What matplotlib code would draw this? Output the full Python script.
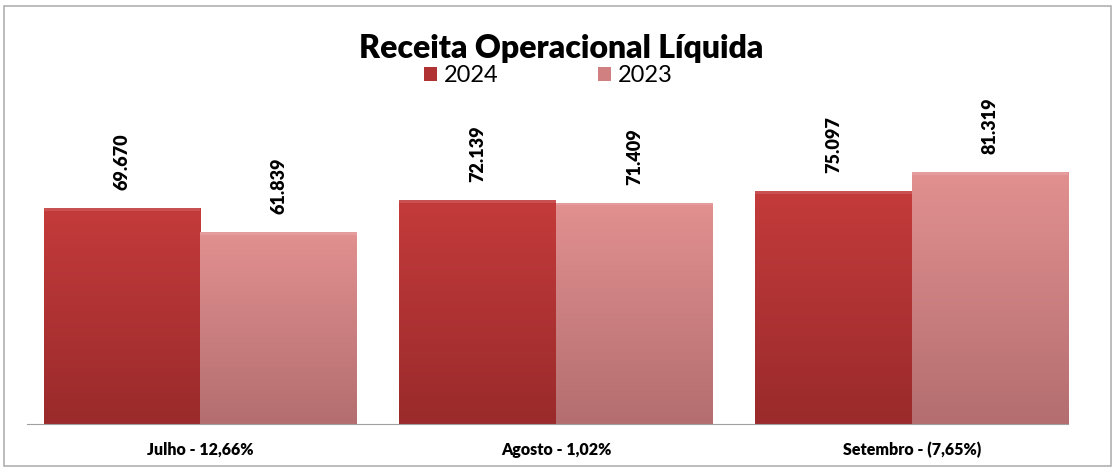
import numpy as np
import matplotlib.pyplot as plt
from matplotlib.patches import Rectangle
from matplotlib.colors import LinearSegmentedColormap

# Dados do gráfico
meses = ['Julho - 12,66%', 'Agosto - 1,02%', 'Setembro - (7,65%)']
valores_2024 = [69670, 72139, 75097]
valores_2023 = [61839, 71409, 81319]
rotulos_2024 = ['69.670', '72.139', '75.097']
rotulos_2023 = ['61.839', '71.409', '81.319']

plt.rcParams['font.family'] = ['Lato', 'DejaVu Sans']

fig = plt.figure(figsize=(11.15, 4.72), dpi=100)
fig.patch.set_facecolor('white')
fig.add_artist(Rectangle((0.004, 0.012), 0.992, 0.976, transform=fig.transFigure,
                         fill=False, edgecolor='#b0b0b0', linewidth=1.2))

ax = fig.add_axes([0.0242, 0.1017, 0.934, 0.686])

x = np.arange(len(meses))
largura = 0.44

cmap_2024 = LinearSegmentedColormap.from_list('c24', ['#9a2a2b', '#c43b3b'])
cmap_2023 = LinearSegmentedColormap.from_list('c23', ['#b46e6f', '#e29090'])

barras_2024 = ax.bar(x - largura / 2, valores_2024, largura, color='#b03232',
                     edgecolor='none', label='2024')
barras_2023 = ax.bar(x + largura / 2, valores_2023, largura, color='#d08080',
                     edgecolor='none', label='2023')

# gradiente vertical dentro das barras
grad = np.linspace(0, 1, 256).reshape(-1, 1)
for barras, cmap in [(barras_2024, cmap_2024), (barras_2023, cmap_2023)]:
    for b in barras:
        x0, w, h = b.get_x(), b.get_width(), b.get_height()
        im = ax.imshow(grad, cmap=cmap, origin='lower', aspect='auto',
                       extent=[x0, x0 + w, 0, h], zorder=2)
        im.set_clip_path(b)
        ax.add_patch(Rectangle((x0, h * 0.988), w, h * 0.012, color='white',
                               alpha=0.12, zorder=3, linewidth=0))

for barras, rot in [(barras_2024, rotulos_2024), (barras_2023, rotulos_2023)]:
    for b, r in zip(barras, rot):
        ax.annotate(r, (b.get_x() + b.get_width() / 2, b.get_height()),
                    xytext=(0, 13), textcoords='offset points', rotation=90,
                    ha='center', va='bottom', fontsize=13, fontweight='heavy')

ax.set_xlim(-0.487, 2.44)
ax.set_ylim(0, 104500)
ax.set_xticks(x)
ax.set_xticklabels(meses, fontsize=11.5, fontweight='heavy')
ax.tick_params(axis='x', length=0, pad=13)
ax.set_yticks([])
for s in ['top', 'right', 'left']:
    ax.spines[s].set_visible(False)
ax.spines['bottom'].set_color('#a0a0a0')
ax.set_facecolor('none')

fig.text(0.503, 0.897, 'Receita Operacional Líquida', ha='center', va='center',
         fontsize=23, fontweight='heavy')
leg = fig.legend(handles=[barras_2024, barras_2023], labels=['2024', '2023'],
                 loc='center', bbox_to_anchor=(0.492, 0.84), ncol=2, frameon=False,
                 fontsize=17, handlelength=0.55, handleheight=0.55, columnspacing=4.2,
                 handletextpad=0.3)

fig.savefig('out.png', dpi=100)
